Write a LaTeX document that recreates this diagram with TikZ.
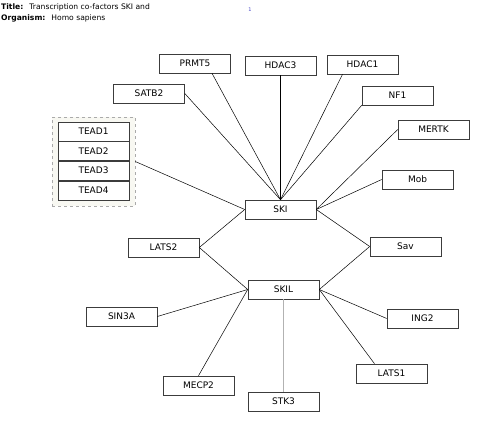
\documentclass[tikz,border=0pt]{standalone}
\usepackage{fontspec}
\setmainfont{DejaVu Sans}
\usetikzlibrary{shadows}
\definecolor{boxline}{RGB}{60,60,60}
\definecolor{boxshade}{RGB}{160,160,160}
\definecolor{groupbg}{RGB}{248,248,242}
\definecolor{groupline}{RGB}{170,170,170}
\definecolor{pagenum}{RGB}{70,70,200}
\begin{document}
\begin{tikzpicture}[x=1pt, y=-1pt,
    gene/.style={rectangle, draw=boxline, line width=0.6pt, fill=white, text centered,
      minimum width=71pt, minimum height=19pt, inner sep=0pt, font=\fontsize{9}{10}\selectfont,
      drop shadow={shadow xshift=0.8pt, shadow yshift=-0.8pt, fill=boxshade, opacity=1}},
    group/.style={rectangle, draw=groupline, dashed, line width=0.6pt, fill=groupbg,
      minimum width=83pt, minimum height=89pt, inner sep=0pt},
    header/.style={anchor=west, inner sep=0pt, font=\fontsize{7.6}{8}\selectfont},
    link/.style={line width=0.5pt, black},
    weak/.style={line width=0.6pt, black!30}]
  \useasboundingbox (0,0) rectangle (480,423);

  % Header
  \node (title) [header] at (1,7) {\textbf{Title:}\hspace{6pt}Transcription co-factors SKI and};
  \node (organism) [header] at (1,18) {\textbf{Organism:}\hspace{6pt}Homo sapiens};
  \node (page) [inner sep=0pt, text=pagenum, font=\fontsize{5}{6}\selectfont] at (250,10) {1};

  % Nodes
  \node (tead) [group] at (93.5,161.5) {};
  \node (tead1) [gene] at (93.5,131.5) {TEAD1};
  \node (tead2) [gene] at (93.5,151) {TEAD2};
  \node (tead3) [gene] at (93.5,170.5) {TEAD3};
  \node (tead4) [gene] at (93.5,190.5) {TEAD4};

  \node (prmt5) [gene] at (195,63.5) {PRMT5};
  \node (hdac3) [gene] at (280.5,65.5) {HDAC3};
  \node (hdac1) [gene] at (362.5,64.5) {HDAC1};
  \node (satb2) [gene] at (149,93.5) {SATB2};
  \node (nf1) [gene] at (397.5,95.5) {NF1};
  \node (mertk) [gene] at (433.5,129.5) {MERTK};
  \node (mob) [gene] at (417.5,179.5) {Mob};
  \node (ski) [gene] at (280.5,209.5) {SKI};
  \node (lats2) [gene] at (163.5,247.5) {LATS2};
  \node (sav) [gene] at (405.5,246.5) {Sav};
  \node (skil) [gene] at (283.5,289.5) {SKIL};
  \node (sin3a) [gene] at (121.5,316.5) {SIN3A};
  \node (ing2) [gene] at (422.5,318.5) {ING2};
  \node (lats1) [gene] at (391.5,373.5) {LATS1};
  \node (mecp2) [gene] at (198.5,385.5) {MECP2};
  \node (stk3) [gene] at (283.5,401.5) {STK3};

  % Arrows
  \draw[link] ([xshift=17pt]prmt5.south) -- (ski.north);
  \draw[link] (hdac3.south) -- (ski.north);
  \draw[link] ([xshift=-20pt]hdac1.south) -- (ski.north);
  \draw[link] (satb2.east) -- (ski.north);
  \draw[link] (nf1.south west) -- (ski.north);
  \draw[link] (mertk.west) -- (ski.east);
  \draw[link] (mob.west) -- (ski.east);
  \draw[link] (sav.west) -- (ski.east);
  \draw[link] (tead.east) -- (ski.west);
  \draw[link] (lats2.east) -- (ski.west);

  \draw[link] (lats2.east) -- (skil.west);
  \draw[link] (sin3a.east) -- (skil.west);
  \draw[link] (mecp2.north) -- (skil.west);
  \draw[link] (sav.west) -- (skil.east);
  \draw[link] (ing2.west) -- (skil.east);
  \draw[link] ([xshift=-17pt]lats1.north) -- (skil.east);
  \draw[weak] (skil.south) -- (stk3.north);
\end{tikzpicture}
\end{document}
